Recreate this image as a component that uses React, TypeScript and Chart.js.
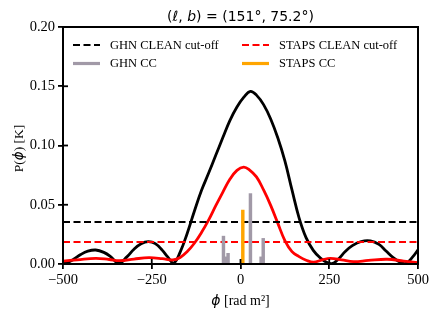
import React, { useEffect, useRef } from 'react';
import { Chart, registerables } from 'chart.js';

Chart.register(...registerables);

// ---- Data ----
const ghnPhi = [-500, -490, -470, -450, -430, -408, -385, -365, -343, -320, -300, -280, -260, -240, -220, -205, -188, -170, -150, -130, -110, -90, -70, -50, -30, -10, 10, 28, 45, 65, 85, 105, 125, 145, 165, 185, 205, 225, 242, 258, 275, 295, 315, 340, 366, 390, 410, 430, 450, 465, 485, 500];
const ghnClean = [0.0015, 0.001, 0.004, 0.008, 0.0108, 0.0118, 0.0098, 0.006, 0.0005, 0.006, 0.0125, 0.017, 0.0188, 0.0172, 0.0115, 0.006, 0.0008, 0.01, 0.026, 0.0445, 0.062, 0.0765, 0.0915, 0.1065, 0.121, 0.1325, 0.141, 0.1457, 0.1425, 0.1345, 0.1224, 0.1065, 0.087, 0.0625, 0.039, 0.022, 0.0115, 0.005, 0.0015, 0.0003, 0.004, 0.0105, 0.0155, 0.019, 0.0195, 0.0165, 0.011, 0.0055, 0.0015, 0.0003, 0.006, 0.012];

const stapsPhi = [-500, -460, -408, -370, -340, -300, -258, -220, -190, -170, -150, -130, -110, -90, -70, -50, -30, -10, 9, 25, 45, 65, 85, 105, 125, 145, 165, 185, 206, 230, 253, 285, 318, 360, 413, 460, 500];
const stapsClean = [0.0025, 0.0035, 0.0048, 0.0038, 0.0028, 0.0042, 0.0053, 0.0045, 0.0034, 0.0055, 0.0105, 0.0175, 0.0265, 0.037, 0.049, 0.0605, 0.0715, 0.079, 0.0818, 0.0795, 0.0735, 0.0625, 0.0495, 0.0345, 0.0198, 0.0105, 0.0062, 0.0032, 0.0015, 0.0035, 0.0048, 0.0035, 0.002, 0.003, 0.004, 0.0025, 0.0012];

const ghnCutoff = 0.0355;
const stapsCutoff = 0.0186;

const ghnCcPhi = [-48, -41, -35, 28, 58, 64];
const ghnCc = [0.0235, 0.006, 0.009, 0.0594, 0.006, 0.0216];
const stapsCcPhi = [6.5];
const stapsCc = [0.0455];

const xRange = [-500, 500];
const yRange = [0, 0.2];
const xStep = 250;
const yStep = 0.05;

const legendLabels = ['GHN CLEAN cut-off', 'STAPS CLEAN cut-off', 'GHN CC', 'STAPS CC'];

const BLACK = '#000000';
const RED = '#ff0000';
const GRAY = '#a199a7';
const ORANGE = '#ffa500';

const SERIF = '"Liberation Serif", "DejaVu Serif", serif';
const SANS = '"DejaVu Sans", sans-serif';

type Seg = { text: string; font: string };

function drawRich(ctx: CanvasRenderingContext2D, segs: Seg[], x: number, y: number) {
  let total = 0;
  const widths = segs.map((s) => {
    ctx.font = s.font;
    const w = ctx.measureText(s.text).width;
    total += w;
    return w;
  });
  let cx = x - total / 2;
  ctx.textAlign = 'left';
  segs.forEach((s, i) => {
    ctx.font = s.font;
    ctx.fillText(s.text, cx, y);
    cx += widths[i];
  });
}

const decorPlugin = {
  id: 'decor',
  afterDatasetsDraw(chart: any) {
    const { ctx, chartArea } = chart;
    const { left, right, top, bottom } = chartArea;
    ctx.save();
    ctx.strokeStyle = BLACK;
    ctx.lineWidth = 1.8;
    const xs = chart.scales.x;
    const ys = chart.scales.y;
    xs.ticks.forEach((t: any) => {
      const px = xs.getPixelForValue(t.value);
      ctx.beginPath();
      ctx.moveTo(px, bottom);
      ctx.lineTo(px, bottom - 5);
      ctx.stroke();
    });
    ys.ticks.forEach((t: any) => {
      const py = ys.getPixelForValue(t.value);
      ctx.beginPath();
      ctx.moveTo(left, py);
      ctx.lineTo(left + 5, py);
      ctx.stroke();
    });
    ctx.lineWidth = 2;
    ctx.strokeRect(left, top, right - left, bottom - top);
    ctx.restore();
  },
  afterDraw(chart: any) {
    const { ctx, chartArea } = chart;
    const { left, right, top, bottom } = chartArea;
    const cx = (left + right) / 2;
    ctx.save();
    ctx.fillStyle = BLACK;

    // title
    ctx.textBaseline = 'alphabetic';
    drawRich(
      ctx,
      [
        { text: '(', font: `14px ${SANS}` },
        { text: 'ℓ', font: `italic 14px ${SANS}` },
        { text: ', ', font: `14px ${SANS}` },
        { text: 'b', font: `italic 14px ${SANS}` },
        { text: ') = (151°, 75.2°)', font: `14px ${SANS}` },
      ],
      cx,
      top - 6
    );

    // x label
    ctx.textBaseline = 'middle';
    drawRich(
      ctx,
      [
        { text: 'ϕ', font: `italic 14px ${SANS}` },
        { text: ' [rad m²]', font: `14px ${SERIF}` },
      ],
      cx,
      301
    );

    // y label
    ctx.save();
    ctx.translate(19.5, (top + bottom) / 2 + 3);
    ctx.rotate(-Math.PI / 2);
    drawRich(
      ctx,
      [
        { text: 'P(', font: `13.5px ${SERIF}` },
        { text: 'ϕ', font: `italic 13.5px ${SANS}` },
        { text: ') [K]', font: `13.5px ${SERIF}` },
      ],
      0,
      0
    );
    ctx.restore();

    // legend
    const rows = [top + 18, top + 36.5];
    const cols = [left + 10, left + 179];
    const items = [
      { label: legendLabels[0], color: BLACK, dash: [7, 3.5], width: 2, col: 0, row: 0 },
      { label: legendLabels[1], color: RED, dash: [7, 3.5], width: 2, col: 1, row: 0 },
      { label: legendLabels[2], color: GRAY, dash: [], width: 3.2, col: 0, row: 1 },
      { label: legendLabels[3], color: ORANGE, dash: [], width: 3.2, col: 1, row: 1 },
    ];
    ctx.font = `12.5px ${SERIF}`;
    ctx.textBaseline = 'middle';
    ctx.textAlign = 'left';
    items.forEach((it) => {
      const x0 = cols[it.col];
      const y0 = rows[it.row];
      ctx.beginPath();
      ctx.setLineDash(it.dash);
      ctx.strokeStyle = it.color;
      ctx.lineWidth = it.width;
      ctx.moveTo(x0, y0);
      ctx.lineTo(x0 + 27, y0);
      ctx.stroke();
      ctx.setLineDash([]);
      ctx.fillStyle = BLACK;
      ctx.fillText(it.label, x0 + 37, y0 + 0.5);
    });
    ctx.restore();
  },
};

function zip(xs: number[], ys: number[]) {
  return xs.map((x, i) => ({ x, y: ys[i] }));
}

export default function App() {
  const ref = useRef<HTMLCanvasElement | null>(null);

  useEffect(() => {
    if (!ref.current) return;
    const chart = new Chart(ref.current, {
      type: 'line',
      data: {
        datasets: [
          {
            type: 'bar',
            label: legendLabels[3],
            data: zip(stapsCcPhi, stapsCc),
            backgroundColor: ORANGE,
            borderWidth: 0,
            barThickness: 2.8,
            grouped: false,
            order: 0,
          } as any,
          {
            type: 'bar',
            label: legendLabels[2],
            data: zip(ghnCcPhi, ghnCc),
            backgroundColor: GRAY,
            borderWidth: 0,
            barThickness: 2.8,
            grouped: false,
            order: 1,
          } as any,
          {
            label: legendLabels[1],
            data: zip(xRange, [stapsCutoff, stapsCutoff]),
            borderColor: RED,
            borderWidth: 2,
            borderDash: [7, 3.5],
            pointRadius: 0,
            order: 2,
          },
          {
            label: legendLabels[0],
            data: zip(xRange, [ghnCutoff, ghnCutoff]),
            borderColor: BLACK,
            borderWidth: 2,
            borderDash: [7, 3.5],
            pointRadius: 0,
            order: 2,
          },
          {
            label: 'STAPS CLEAN',
            data: zip(stapsPhi, stapsClean),
            borderColor: RED,
            borderWidth: 2.8,
            pointRadius: 0,
            tension: 0.4,
            order: 3,
          },
          {
            label: 'GHN CLEAN',
            data: zip(ghnPhi, ghnClean),
            borderColor: BLACK,
            borderWidth: 2.8,
            pointRadius: 0,
            tension: 0.4,
            order: 4,
          },
        ],
      },
      options: {
        responsive: false,
        animation: false,
        devicePixelRatio: 1,
        layout: { padding: { left: 0, top: 27, right: 17, bottom: 0 } },
        plugins: {
          legend: { display: false },
          title: { display: false },
          tooltip: { enabled: false },
        },
        scales: {
          x: {
            type: 'linear',
            min: xRange[0],
            max: xRange[1],
            offset: false,
            grid: {
              display: true,
              drawOnChartArea: false,
              drawTicks: true,
              tickLength: 5,
              color: BLACK,
              lineWidth: 1.8,
              offset: false,
            },
            border: { display: false },
            ticks: {
              stepSize: xStep,
              color: BLACK,
              padding: 2,
              maxRotation: 0,
              font: { family: SERIF, size: 14.5 },
              callback: (v: any) => String(Math.round(Number(v))).replace('-', '\u2212'),
            },
            afterFit: (s: any) => {
              s.height = 52;
            },
          },
          y: {
            type: 'linear',
            min: yRange[0],
            max: yRange[1],
            grid: {
              display: true,
              drawOnChartArea: false,
              drawTicks: true,
              tickLength: 5,
              color: BLACK,
              lineWidth: 1.8,
            },
            border: { display: false },
            ticks: {
              stepSize: yStep,
              color: BLACK,
              padding: 3,
              font: { family: SERIF, size: 14.5 },
              callback: (v: any) => Number(v).toFixed(2),
            },
            afterFit: (s: any) => {
              s.width = 63;
            },
          },
        },
      },
      plugins: [decorPlugin],
    });
    return () => chart.destroy();
  }, []);

  return (
    <div style={{ position: 'absolute', left: 0, top: 0, width: 435, height: 316, background: '#fff' }}>
      <canvas ref={ref} width={435} height={316} style={{ display: 'block' }} />
    </div>
  );
}
